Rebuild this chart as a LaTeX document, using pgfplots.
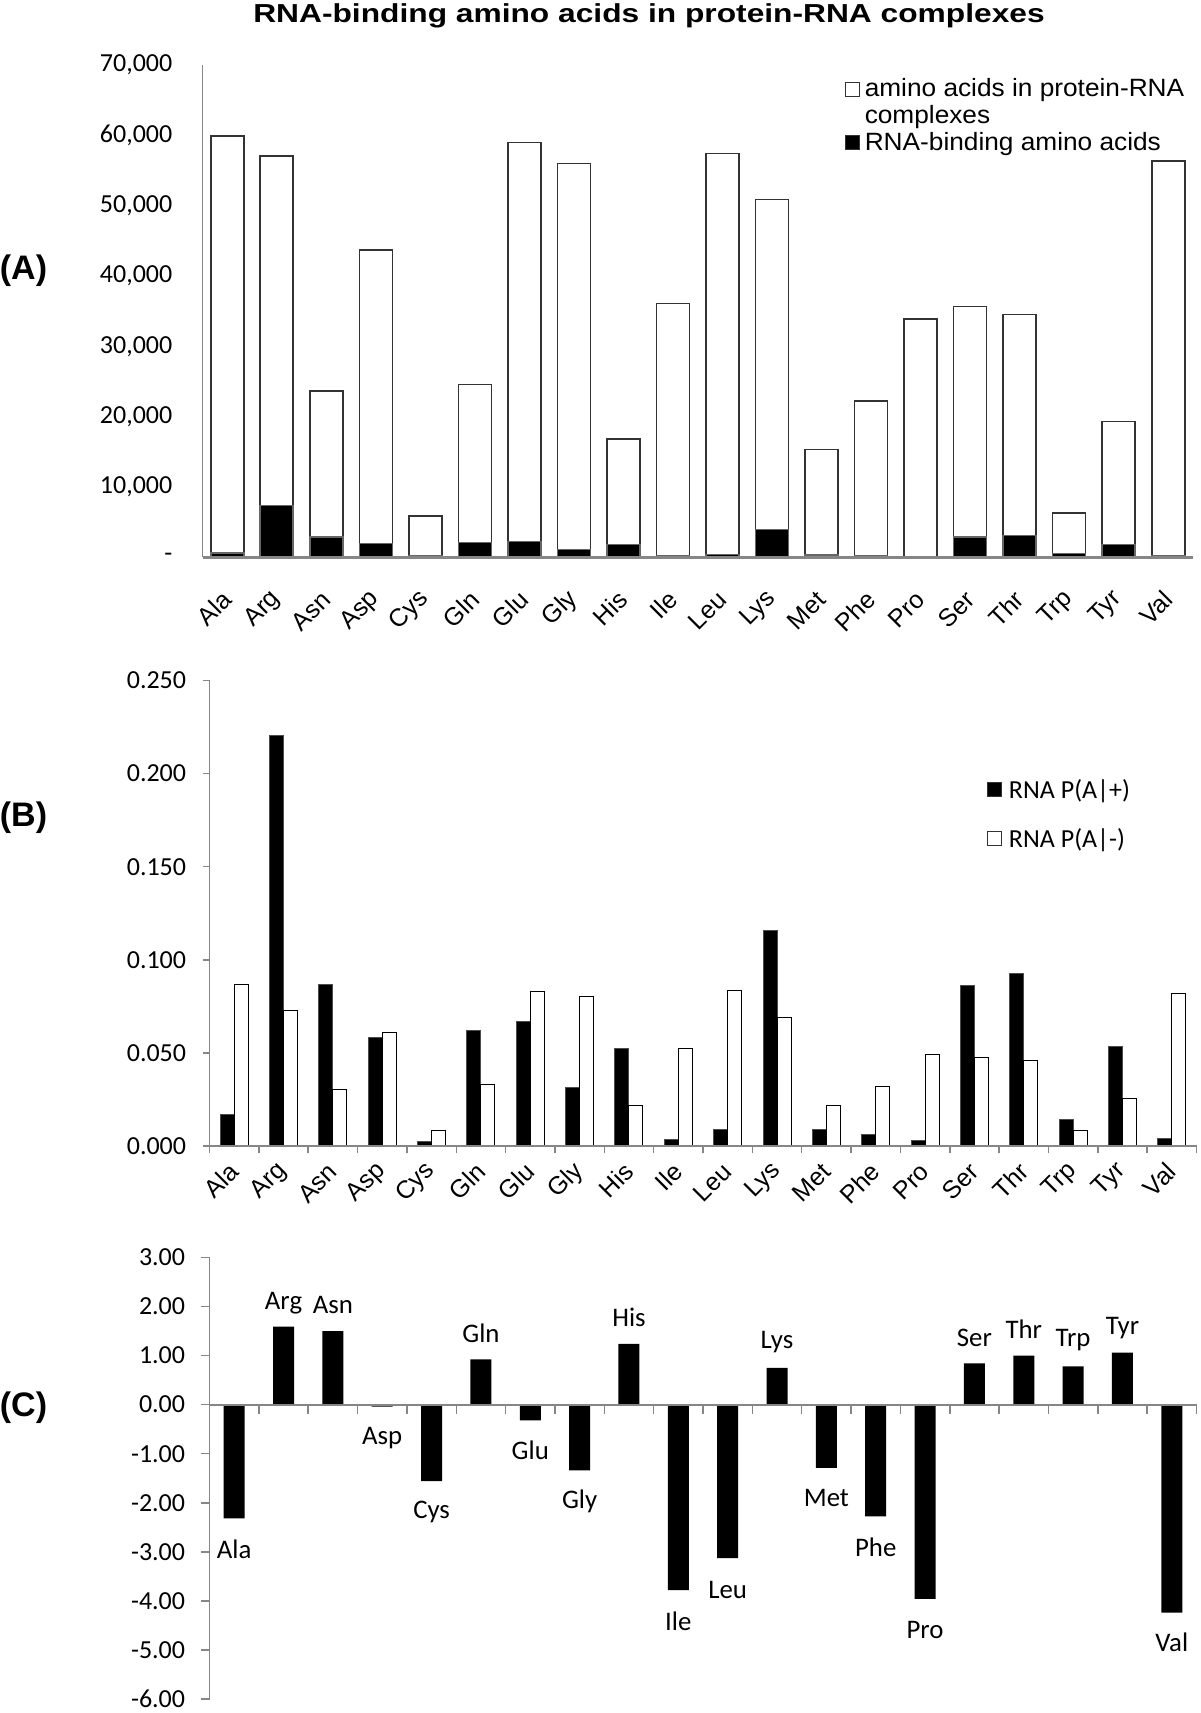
\documentclass[border=0pt]{standalone}
\usepackage{pgfplots}
\pgfplotsset{compat=1.18}
\usepackage{pgfplotstable}
\usepackage{fontspec}
\setmainfont{Liberation Sans}
\newfontfamily\carlito{Carlito}
\newfontfamily\titlefont[FakeStretch=1.22]{Liberation Sans}
\newfontfamily\legfont[FakeStretch=1.05]{Liberation Sans}
\definecolor{axgray}{RGB}{134,134,134}

\pgfplotstableread{
x tot bind
0 59900 600
1 57100 7350
2 23650 2890
3 43700 1990
4 5880 150
5 24600 2130
6 59000 2270
7 56000 1090
8 16870 1850
9 36110 190
10 57450 380
11 50900 3930
12 15360 330
13 22230 280
14 33930 140
15 35690 2890
16 34550 3130
17 6300 570
18 19340 1850
19 56400 190
}\dataA

\pgfplotstableread{
x pp pm
0 0.0170 0.0870
1 0.2205 0.0729
2 0.0866 0.0303
3 0.0584 0.0610
4 0.0023 0.0081
5 0.0619 0.0328
6 0.0670 0.0829
7 0.0313 0.0802
8 0.0523 0.0218
9 0.0035 0.0525
10 0.0091 0.0837
11 0.1157 0.0689
12 0.0087 0.0216
13 0.0064 0.0320
14 0.0027 0.0492
15 0.0862 0.0478
16 0.0926 0.0457
17 0.0143 0.0081
18 0.0532 0.0255
19 0.0041 0.0820
}\dataB

% panel C: value (y) and where its label sits (ly)
\pgfplotstableread{
x y ly lab
0 -2.32 -2.94 Ala
1 1.59 2.06 Arg
2 1.50 2.04 Asn
3 -0.04 -0.69 Asp
4 -1.56 -2.18 Cys
5 0.92 1.46 Gln
6 -0.32 -0.93 Glu
7 -1.34 -1.98 Gly
8 1.24 1.77 His
9 -3.78 -4.41 Ile
10 -3.13 -3.77 Leu
11 0.75 1.28 Lys
12 -1.29 -1.91 Met
13 -2.28 -2.91 Phe
14 -3.96 -4.59 Pro
15 0.84 1.36 Ser
16 1.00 1.53 Thr
17 0.78 1.31 Trp
18 1.06 1.57 Tyr
19 -4.24 -4.84 Val
}\dataC

\pgfplotsset{
  sq/.style={legend image code/.code={\draw[##1, line width=0.5pt, draw=black!80] (0pt,-3pt) rectangle (7pt,4pt);}},
  panel/.style={
    scale only axis,
    xmin=-0.5, xmax=19.5,
    axis x line*=bottom, axis y line*=left,
    axis line style={draw=axgray, line width=0.75pt, -},
    tick style={draw=axgray, line width=0.75pt},
    yticklabel style={font=\carlito\fontsize{13}{15}\selectfont, inner sep=0pt, anchor=east},
    xtick={-0.5,0.5,...,19.5},
    legend cell align=left,
    axis on top,
  },
  catlabels/.style={
    x tick label as interval,
    xticklabels={Ala,Arg,Asn,Asp,Cys,Gln,Glu,Gly,His,Ile,Leu,Lys,Met,Phe,Pro,Ser,Thr,Trp,Tyr,Val},
    xticklabel style={font=\fontsize{12.5}{14}\selectfont, yshift=#1, rotate=45, anchor=east, inner sep=0pt},
  },
}

\begin{document}
\begin{tikzpicture}
\useasboundingbox (0pt,0pt) rectangle (600pt,-856.5pt);
\node[anchor=base, inner sep=0pt, font=\titlefont\bfseries\fontsize{13}{15}\selectfont] at (324.5pt,-11.35pt) {RNA-binding amino acids in protein-RNA complexes};
\node[inner sep=0pt, font=\bfseries\fontsize{17}{20}\selectfont] at (11.75pt,-135.5pt) {(A)};
\node[inner sep=0pt, font=\bfseries\fontsize{17}{20}\selectfont] at (11.75pt,-408.75pt) {(B)};
\node[inner sep=0pt, font=\bfseries\fontsize{17}{20}\selectfont] at (11.75pt,-703.85pt) {(C)};

% ---------------- Panel A
\begin{axis}[panel, catlabels=-19pt,
  at={(101.25pt,-278.65pt)}, anchor=south west,
  width=495.25pt, height=246.05pt,
  ymin=0, ymax=70000,
  x axis line style={line width=1.25pt},
  ytick={0,10000,20000,30000,40000,50000,60000,70000},
  yticklabels={-,{10,000},{20,000},{30,000},{40,000},{50,000},{60,000},{70,000}},
  scaled y ticks=false,
  major tick length=0pt,
  yticklabel style={xshift=-14.9pt},
  ybar, bar width=16.5pt,
  legend style={at={(0.6484,0.9736)}, anchor=north west, draw=none, fill=none,
    inner sep=0pt, outer sep=0pt, column sep=2.5pt, row sep=1.5pt,
    nodes={inner sep=0pt, text height=9.2pt, text depth=2.7pt},
    font=\legfont\fontsize{12.5}{15}\selectfont},
]
\addplot[sq, fill=white, draw=black!80, line width=0.8pt, bar shift=0pt] table[x=x,y=tot]{\dataA};
\addlegendentry{amino acids in protein-RNA}
\addlegendimage{empty legend}
\addlegendentry{complexes}
\addplot[sq, fill=black, draw=black!60, line width=0.8pt, bar shift=0pt] table[x=x,y=bind]{\dataA};
\addlegendentry{RNA-binding amino acids}
\end{axis}

% ---------------- Panel B
\begin{axis}[panel, catlabels=-7.2pt,
  at={(104.75pt,-573pt)}, anchor=south west,
  width=493.5pt, height=232.75pt,
  ymin=0, ymax=0.25,
  ytick={0,0.05,0.1,0.15,0.2,0.25},
  yticklabels={0.000,0.050,0.100,0.150,0.200,0.250},
  scaled y ticks=false,
  tick align=outside, major tick length=3.5pt,
  yticklabel style={xshift=-8pt},
  ybar, bar width=7pt,
  legend style={at={(0.7877,0.789)}, anchor=north west, draw=none, fill=none,
    inner sep=0pt, outer sep=0pt, column sep=3.5pt, row sep=12.3pt,
    nodes={inner sep=0pt, text height=9.7pt, text depth=2.5pt},
    font=\carlito\fontsize{13}{15}\selectfont},
]
\addplot[sq, fill=black, draw=black!70, line width=0.5pt, bar shift=-3.5pt] table[x=x,y=pp]{\dataB};
\addlegendentry{RNA P(A|+)}
\addplot[sq, fill=white, draw=black, line width=0.5pt, bar shift=3.5pt] table[x=x,y=pm]{\dataB};
\addlegendentry{RNA P(A|-)}
\end{axis}

% ---------------- Panel C
\begin{axis}[panel,
  at={(104.75pt,-849.5pt)}, anchor=south west,
  width=493.5pt, height=220.8pt,
  ymin=-6, ymax=3,
  axis x line shift=-147.2pt,
  x axis line style={line width=1pt},
  ytick={-6,-5,-4,-3,-2,-1,0,1,2,3},
  yticklabels={-6.00,-5.00,-4.00,-3.00,-2.00,-1.00,0.00,1.00,2.00,3.00},
  xticklabels={},
  tick align=outside, major tick length=4.5pt,
  yticklabel style={xshift=-7.5pt},
  clip=false,
]
\addplot[ybar, bar width=10.5pt, fill=black, draw=none, bar shift=0pt]
  table[x=x,y=y]{\dataC};
\addplot[only marks, mark=none, nodes near coords, point meta=explicit symbolic,
  every node near coord/.style={anchor=center, inner sep=0pt,
    font=\carlito\fontsize{13.4}{15}\selectfont}]
  table[x=x,y=ly,meta=lab]{\dataC};
\end{axis}
\end{tikzpicture}
\end{document}
